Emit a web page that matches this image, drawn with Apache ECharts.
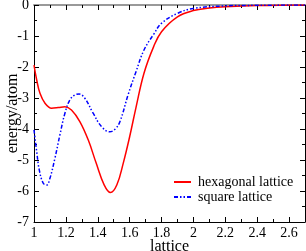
<!DOCTYPE html>
<html>
<head>
<meta charset="utf-8">
<script src="https://cdn.jsdelivr.net/npm/echarts@6/dist/echarts.min.js"></script>
<style>
html,body{margin:0;padding:0;background:#fff;}
#c{width:306px;height:251px;}
</style>
</head>
<body>
<div id="c"></div>
<script>
var seriesNames = ['hexagonal lattice', 'square lattice'];
var hexX = [1.0, 1.017, 1.0375, 1.069, 1.11, 1.152, 1.194, 1.235, 1.2875, 1.34, 1.39, 1.44, 1.48, 1.52, 1.56, 1.60, 1.64, 1.69, 1.75, 1.80, 1.90, 2.0, 2.1, 2.2, 2.4, 2.7];
var hexY = [-1.94, -2.42, -2.85, -3.17, -3.33, -3.31, -3.28, -3.39, -3.76, -4.35, -5.1, -5.8, -6.05, -5.8, -5.1, -4.25, -3.3, -2.2, -1.35, -0.86, -0.38, -0.18, -0.1, -0.06, -0.02, 0];
var sqX = [1.0, 1.017, 1.033, 1.058, 1.079, 1.1, 1.131, 1.1625, 1.194, 1.225, 1.256, 1.283, 1.319, 1.371, 1.423, 1.475, 1.51, 1.54, 1.59, 1.64, 1.69, 1.75, 1.80, 1.90, 2.0, 2.2, 2.4, 2.7];
var sqY = [-4.03, -4.73, -5.32, -5.75, -5.81, -5.59, -4.95, -4.19, -3.49, -3.06, -2.9, -2.87, -3.01, -3.49, -3.92, -4.09, -4.0, -3.75, -2.9, -2.15, -1.45, -0.95, -0.59, -0.27, -0.11, -0.03, -0.01, 0];
var xTickLabels = ['1', '1.2', '1.4', '1.6', '1.8', '2', '2.2', '2.4', '2.6'];
var yTickLabels = ['-7', '-6', '-5', '-4', '-3', '-2', '-1', '0'];

function pairs(xs, ys) { return xs.map(function (x, i) { return [x, ys[i]]; }); }

var FONT = '"Liberation Serif", "DejaVu Serif", serif';
var chart = echarts.init(document.getElementById('c'), null, {renderer: 'canvas'});
var xBase = {
  type: 'value', min: 1, max: 2.7, interval: 0.2,
  splitLine: {show: false},
  minorTick: {show: true, splitNumber: 2, length: 3, lineStyle: {color: '#000'}},
  axisTick: {show: true, inside: true, length: 5, lineStyle: {color: '#000'}}
};
var yBase = {
  type: 'value', min: -7, max: 0, interval: 1,
  splitLine: {show: false},
  minorTick: {show: true, splitNumber: 2, length: 3, lineStyle: {color: '#000'}},
  axisTick: {show: true, inside: true, length: 5, lineStyle: {color: '#000'}}
};
chart.setOption({
  animation: false,
  backgroundColor: '#fff',
  grid: {left: 34, right: 1, top: 5, bottom: 29, containLabel: false, outerBoundsMode: 'none'},
  legend: {
    orient: 'vertical', left: 168, top: 170, itemWidth: 17, itemHeight: 2, itemGap: 1,
    data: seriesNames,
    itemStyle: {color: 'transparent', borderColor: 'transparent', borderWidth: 0},
    textStyle: {fontFamily: FONT, fontSize: 14, color: '#000', padding: [0, 0, 0, 2]}
  },
  xAxis: [
    Object.assign({}, xBase, {
      position: 'bottom',
      axisLine: {show: true, onZero: false, lineStyle: {color: '#000', width: 1}},
      axisLabel: {show: true, margin: 4, fontFamily: FONT, fontSize: 14, color: '#000', showMaxLabel: false,
        formatter: function (v) { var i = Math.round((v - 1) / 0.2); return Math.abs(v - (1 + i * 0.2)) < 1e-6 ? (xTickLabels[i] || '') : ''; }},
      name: 'lattice', nameLocation: 'middle', nameGap: 17, nameMoveOverlap: false,
      nameTextStyle: {fontFamily: FONT, fontSize: 16, color: '#000'}
    }),
    Object.assign({}, xBase, {
      position: 'top',
      axisLine: {show: true, onZero: false, lineStyle: {color: '#999', width: 2}},
      axisLabel: {show: false}
    })
  ],
  yAxis: [
    Object.assign({}, yBase, {
      position: 'left',
      axisLine: {show: true, onZero: false, lineStyle: {color: '#000', width: 1}},
      axisLabel: {show: true, margin: 5, fontFamily: FONT, fontSize: 14, color: '#000',
        formatter: function (v) { var i = Math.round(v + 7); return yTickLabels[i] || ''; }},
      name: 'energy/atom', nameLocation: 'middle', nameGap: 13, nameRotate: 90, nameMoveOverlap: false,
      nameTextStyle: {fontFamily: FONT, fontSize: 16, color: '#000'}
    }),
    Object.assign({}, yBase, {
      position: 'right',
      axisLine: {show: true, onZero: false, lineStyle: {color: '#000', width: 1}},
      axisLabel: {show: false}
    })
  ],
  series: [
    {
      name: seriesNames[0], type: 'line', xAxisIndex: 0, yAxisIndex: 0,
      data: pairs(hexX, hexY), smooth: 0.4, symbol: 'none', showSymbol: false, clip: true,
      itemStyle: {color: '#ff0000'},
      lineStyle: {color: '#ff0000', width: 1.5, type: 'solid'}
    },
    {
      name: seriesNames[1], type: 'line', xAxisIndex: 0, yAxisIndex: 0,
      data: pairs(sqX, sqY), smooth: 0.4, symbol: 'none', showSymbol: false, clip: true,
      itemStyle: {color: '#0000ff'},
      lineStyle: {color: '#0000ff', width: 1.5, type: [4, 2, 1.5, 2, 1.5, 2]}
    }
  ]
});
</script>
</body>
</html>
